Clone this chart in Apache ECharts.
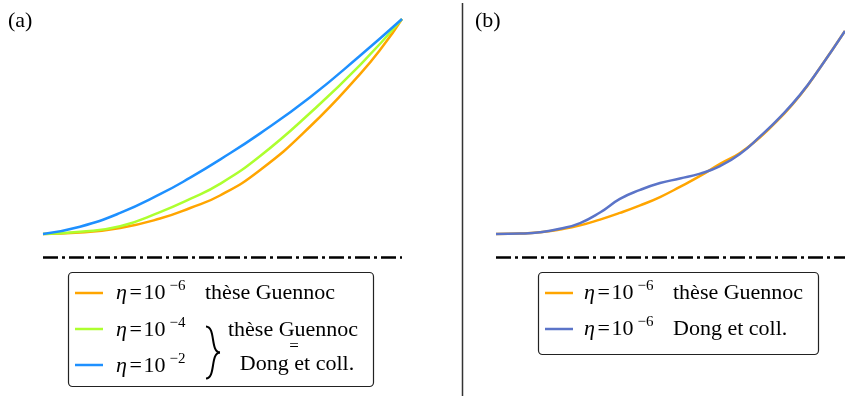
<!DOCTYPE html>
<html>
<head>
<meta charset="utf-8">
<script src="https://cdn.jsdelivr.net/npm/echarts@6/dist/echarts.min.js"></script>
<style>
  html, body { margin: 0; padding: 0; background: #fff; }
  #chart { width: 845px; height: 396px; }
</style>
</head>
<body>
<div id="chart"></div>
<script>
// panel (a) - normalised abscissa / ordinate
const xA = [0, 0.103, 0.215, 0.326, 0.41, 0.493, 0.605, 0.744, 0.883, 1];
const yBlueA = [0, 0.034, 0.098, 0.185, 0.262, 0.346, 0.468, 0.636, 0.829, 1];
const yGreenA = [0, 0.01, 0.036, 0.102, 0.163, 0.233, 0.363, 0.563, 0.786, 1];
const xOrangeA = [0, 0.103, 0.215, 0.326, 0.41, 0.493, 0.605, 0.744, 0.883, 0.947, 1];
const yOrangeA = [0, 0.007, 0.028, 0.072, 0.121, 0.179, 0.298, 0.5, 0.744, 0.874, 1];

// panel (b)
const xB = [0, 0.069, 0.126, 0.183, 0.241, 0.298, 0.355, 0.413, 0.47, 0.527, 0.585, 0.642, 0.699, 0.756, 0.814, 0.871, 0.928, 1];
const yGuennocB = [0, 0.002, 0.008, 0.021, 0.04, 0.067, 0.098, 0.133, 0.172, 0.219, 0.27, 0.326, 0.377, 0.449, 0.54, 0.644, 0.772, 0.944];
const yDongB = [0, 0.002, 0.008, 0.024, 0.051, 0.1, 0.163, 0.205, 0.237, 0.258, 0.281, 0.316, 0.372, 0.453, 0.544, 0.647, 0.772, 0.944];

const baselineY = -0.107; // dash-dot reference line

// legend texts
const etaExpA = ['6', '4', '2'];
const colorsA = ['#ffa500', '#adff2f', '#1e90ff'];
const etaExpB = ['6', '6'];
const sourceB = ['thèse Guennoc', 'Dong et coll.'];
const colorsB = ['#ffa500', '#5b74c8'];

const serif = "'Liberation Serif', 'Times New Roman', serif";
const zip = (xs, ys) => xs.map((x, i) => [x, ys[i]]);

function txt(x, y, s, size, extra) {
  return {
    type: 'text', x, y, silent: true,
    style: Object.assign({
      text: s, fill: '#000', fontSize: size, fontFamily: serif,
      align: 'left', textAlign: 'left', verticalAlign: 'middle', textVerticalAlign: 'middle'
    }, extra || {})
  };
}

function etaRow(x, y, exp) {
  return [
    txt(x, y, 'η', 22, { fontStyle: 'italic' }),
    txt(x + 13.5, y, '=', 22),
    txt(x + 27.5, y, '10', 22),
    txt(x + 53.5, y - 7, '−' + exp, 15)
  ];
}

function sample(x, y, color) {
  return { type: 'line', silent: true, shape: { x1: x, y1: y, x2: x + 28, y2: y }, style: { stroke: color, lineWidth: 2.5 } };
}

const rowsA = [293, 329, 365];
const rowsB = [293, 329];
const graphics = [
  txt(8, 21.5, '(a)', 22),
  txt(475, 21.5, '(b)', 22),
  { type: 'line', silent: true, shape: { x1: 462.5, y1: 3, x2: 462.5, y2: 396 }, style: { stroke: '#333', lineWidth: 1.5 } },
  // legend (a)
  { type: 'rect', silent: true, shape: { x: 68.5, y: 272.5, width: 305, height: 114, r: 4 }, style: { fill: '#fff', stroke: '#222', lineWidth: 1.2 } },
  // legend (b)
  { type: 'rect', silent: true, shape: { x: 538.5, y: 272.5, width: 280, height: 82, r: 4 }, style: { fill: '#fff', stroke: '#222', lineWidth: 1.2 } }
];
rowsA.forEach((y, i) => {
  graphics.push(sample(75, y, colorsA[i]));
  graphics.push(...etaRow(116, y + (i === 0 ? 0 : 1), etaExpA[i]));
});
graphics.push(txt(205, 293, 'thèse Guennoc', 22));
graphics.push(
  { type: 'bezierCurve', silent: true, shape: { x1: 206, y1: 326.5, cpx1: 216, cpy1: 327, cpx2: 210, cpy2: 352, x2: 220, y2: 352.5 }, style: { stroke: '#000', lineWidth: 2, fill: null } },
  { type: 'bezierCurve', silent: true, shape: { x1: 220, y1: 352.5, cpx1: 210, cpy1: 353, cpx2: 216, cpy2: 378, x2: 206, y2: 378.5 }, style: { stroke: '#000', lineWidth: 2, fill: null } }
);
graphics.push(txt(293, 330, 'thèse Guennoc', 22, { align: 'center', textAlign: 'center' }));
graphics.push(txt(294, 347, '=', 17, { align: 'center', textAlign: 'center' }));
graphics.push(txt(297, 364, 'Dong et coll.', 22, { align: 'center', textAlign: 'center' }));
rowsB.forEach((y, i) => {
  graphics.push(sample(545, y, colorsB[i]));
  graphics.push(...etaRow(584, y, etaExpB[i]));
  graphics.push(txt(673, y, sourceB[i], 22));
});

function curve(name, data, color, idx) {
  return {
    type: 'line', name, data, xAxisIndex: idx, yAxisIndex: idx,
    smooth: 0.5, showSymbol: false, silent: true,
    lineStyle: { color, width: 2.5 }
  };
}

const dashLine = {
  silent: true, symbol: 'none', label: { show: false },
  lineStyle: { color: '#000', width: 2.5, type: [15, 4, 3, 4] },
  data: [{ yAxis: baselineY }]
};

const chart = echarts.init(document.getElementById('chart'), null, { renderer: 'canvas' });
chart.setOption({
  animation: false,
  backgroundColor: '#fff',
  grid: [
    { left: 43, right: 443, top: 19, bottom: 129.75 },
    { left: 496, right: 0, top: 19, bottom: 129.75 }
  ],
  xAxis: [
    { type: 'value', gridIndex: 0, min: 0, max: 1, show: false },
    { type: 'value', gridIndex: 1, min: 0, max: 1, show: false }
  ],
  yAxis: [
    { type: 'value', gridIndex: 0, min: -0.15, max: 1, show: false },
    { type: 'value', gridIndex: 1, min: -0.15, max: 1, show: false }
  ],
  series: [
    Object.assign(curve('eta1e-6 a', zip(xOrangeA, yOrangeA), colorsA[0], 0), { markLine: dashLine }),
    curve('eta1e-4 a', zip(xA, yGreenA), colorsA[1], 0),
    curve('eta1e-2 a', zip(xA, yBlueA), colorsA[2], 0),
    Object.assign(curve('Guennoc b', zip(xB, yGuennocB), colorsB[0], 1), { markLine: dashLine }),
    curve('Dong b', zip(xB, yDongB), colorsB[1], 1)
  ],
  graphic: graphics
});
</script>
</body>
</html>
